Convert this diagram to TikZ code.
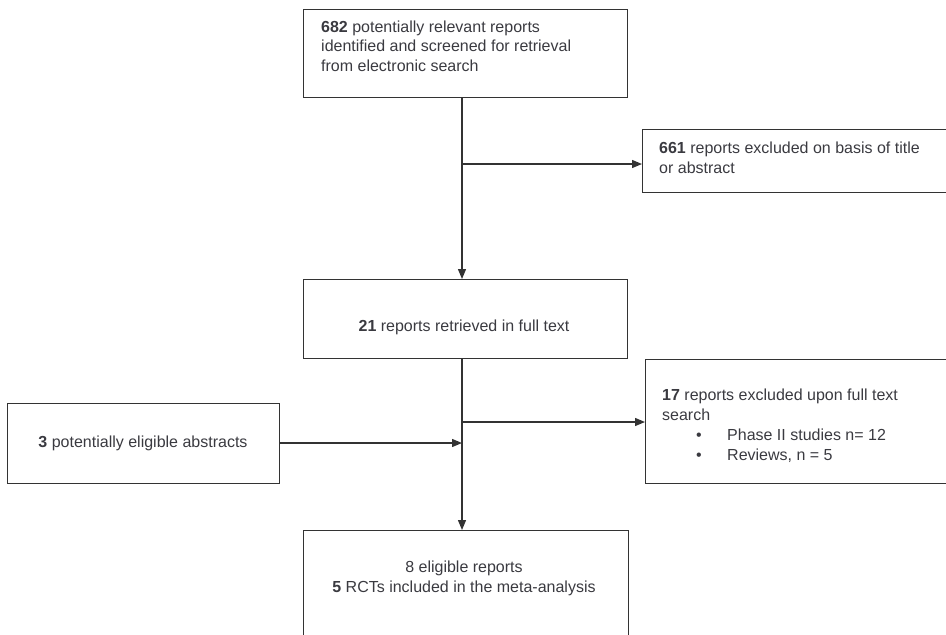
\documentclass[tikz,border=0pt]{standalone}
\usepackage{fontspec}
\setmainfont{Liberation Sans}
\usetikzlibrary{arrows.meta}
\definecolor{ink}{HTML}{333333}
\definecolor{txt}{HTML}{3A3A40}
\tikzset{
  box/.style={draw=ink, line width=1.3pt, rectangle, inner sep=0pt, anchor=north west},
  lbl/.style={inner sep=0pt, text=txt, font=\fontsize{16}{19.3}\selectfont},
  conn/.style={draw=ink, line width=1.3pt},
  arr/.style={conn, -{Triangle[length=10pt,width=8pt]}}
}
\begin{document}
\begin{tikzpicture}[x=1pt,y=-1pt]
\useasboundingbox (0,0) rectangle (946,635);
\clip (0,0) rectangle (946,635);
% boxes
\node[box, minimum width=324pt, minimum height=88pt] (b1) at (303,9) {};
\node[box, minimum width=320pt, minimum height=63pt] (b2) at (642,129) {};
\node[box, minimum width=324pt, minimum height=79pt] (b3) at (303,279) {};
\node[box, minimum width=320pt, minimum height=124pt] (b4) at (645,359) {};
\node[box, minimum width=272pt, minimum height=80pt] (b5) at (7,403) {};
\node[box, minimum width=325pt, minimum height=130pt] (b6) at (303,530) {};
% texts (base anchor = last line baseline)
\node[lbl, anchor=base west, align=left] (t1) at (321,71) {\textbf{682} potentially relevant reports\\identified and screened for retrieval\\from electronic search};
\node[lbl, anchor=base west, align=left] (t2) at (659,173) {\textbf{661} reports excluded on basis of title\\or abstract};
\node[lbl, anchor=base] (t3) at (464,331) {\textbf{21} reports retrieved in full text};
\node[lbl, anchor=base west, align=left] (t4) at (662,420) {\textbf{17} reports excluded upon full text\\search};
\node[lbl, anchor=base] (t4a) at (699,440) {\textbullet};
\node[lbl, anchor=base west] (t4b) at (727,440) {Phase II studies n= 12};
\node[lbl, anchor=base] (t4c) at (699,460) {\textbullet};
\node[lbl, anchor=base west] (t4d) at (727,460) {Reviews, n = 5};
\node[lbl, anchor=base] (t5) at (143,447) {\textbf{3} potentially eligible abstracts};
\node[lbl, anchor=base, align=center] (t6) at (464,592) {8 eligible reports\\\textbf{5} RCTs included in the meta-analysis};
% connectors
\coordinate (j2) at (462,164);
\coordinate (j3) at (462,422);
\coordinate (j4) at (462,443);
\draw[arr] (b1.south -| j2) -- (b3.north -| j2);
\draw[arr] (j2) -- (b2.west |- j2);
\draw[arr] (b3.south -| j2) -- (b6.north -| j2);
\draw[arr] (j3) -- (b4.west |- j3);
\draw[arr] (b5.east |- j4) -- (j4);
\end{tikzpicture}
\end{document}
